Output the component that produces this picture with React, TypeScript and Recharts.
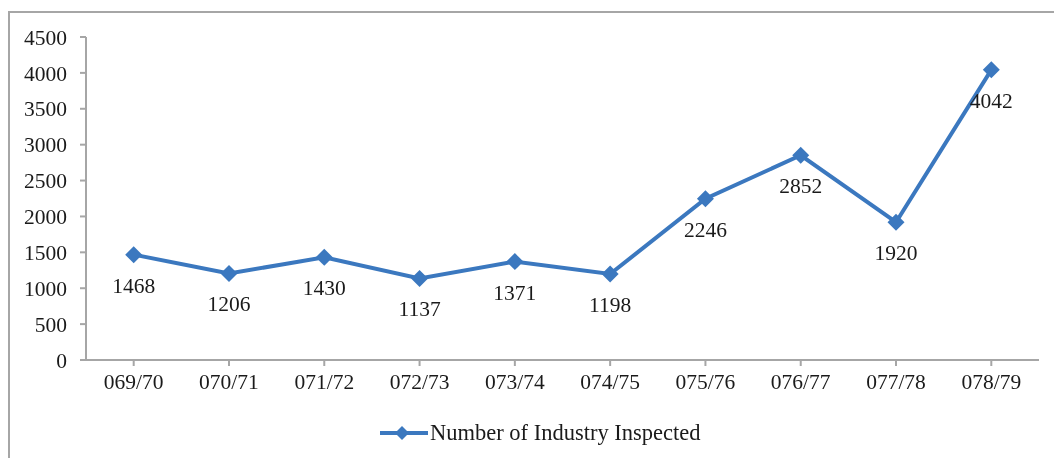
import React from 'react';
import { LineChart, Line, XAxis, YAxis, Legend } from 'recharts';

const years = ['069/70', '070/71', '071/72', '072/73', '073/74', '074/75', '075/76', '076/77', '077/78', '078/79'];
const inspected = [1468, 1206, 1430, 1137, 1371, 1198, 2246, 2852, 1920, 4042];
const yTicks = [0, 500, 1000, 1500, 2000, 2500, 3000, 3500, 4000, 4500];

const seriesName = 'Number of Industry Inspected';
const lineColor = '#3b78bf';
const axisColor = '#a6a6a6';
const font = '"Liberation Serif", "Times New Roman", serif';

const chartData = years.map((year, i) => ({ year, value: inspected[i] }));

const Diamond = (props: any) => {
  const { cx, cy } = props;
  if (cx == null || cy == null) return null;
  const r = 8.5;
  return (
    <polygon
      points={`${cx},${cy - r} ${cx + r},${cy} ${cx},${cy + r} ${cx - r},${cy}`}
      fill={lineColor}
    />
  );
};

const ValueLabel = (props: any) => {
  const { x, y, value } = props;
  return (
    <text x={x} y={y + 33} textAnchor="middle" dominantBaseline="middle" fontSize={21.5} fontFamily={font} fill="#1a1a1a">
      {value}
    </text>
  );
};

const LegendContent = () => (
  <div style={{ display: 'flex', alignItems: 'center', fontFamily: font, fontSize: 22.5, color: '#1a1a1a' }}>
    <svg width={50} height={20}>
      <line x1={0} y1={10} x2={48} y2={10} stroke={lineColor} strokeWidth={4} />
      <polygon points="22,3 29,10 22,17 15,10" fill={lineColor} />
    </svg>
    <span>{seriesName}</span>
  </div>
);

const App: React.FC = () => {
  return (
    <div style={{ position: 'relative', width: 1038, height: 442 }}>
      <div
        style={{
          position: 'fixed',
          left: 8,
          top: 11,
          right: -10,
          bottom: -10,
          borderLeft: `2px solid ${axisColor}`,
          borderTop: `2px solid ${axisColor}`,
        }}
      />
      <LineChart width={1038} height={442} data={chartData} margin={{ top: 29, right: 7, bottom: 34, left: 0 }}>
        <XAxis
          dataKey="year"
          padding={{ left: 47.7, right: 47.7 }}
          stroke={axisColor}
          strokeWidth={2}
          tickSize={6}
          tickMargin={8}
          tick={{ fill: '#1a1a1a', fontSize: 21.5, fontFamily: font }}
          interval={0}
        />
        <YAxis
          width={78}
          domain={[0, 4500]}
          ticks={yTicks}
          interval={0}
          stroke={axisColor}
          strokeWidth={2}
          tickSize={6}
          tickMargin={13}
          tick={{ fill: '#1a1a1a', fontSize: 21.5, fontFamily: font }}
        />
        <Legend
          content={<LegendContent />}
          wrapperStyle={{ left: 372, top: 412, width: 'auto' }}
        />
        <Line
          dataKey="value"
          name={seriesName}
          stroke={lineColor}
          strokeWidth={4}
          dot={<Diamond />}
          activeDot={false}
          label={<ValueLabel />}
          isAnimationActive={false}
        />
      </LineChart>
    </div>
  );
};

export default App;
